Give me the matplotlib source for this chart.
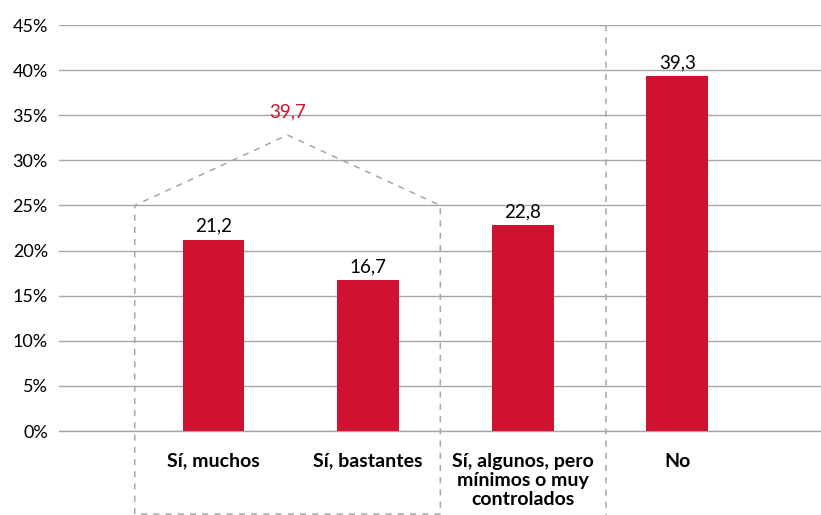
import numpy as np
import matplotlib.pyplot as plt

plt.rcParams['font.family'] = ['Lato', 'DejaVu Sans']

# Datos
categorias = ["Sí, muchos", "Sí, bastantes", "Sí, algunos, pero\nmínimos o muy\ncontrolados", "No"]
valores = [21.2, 16.7, 22.8, 39.3]
etiquetas = ["21,2", "16,7", "22,8", "39,3"]
suma_si = "39,7"

rojo = '#CE1230'
gris = '#A6A6A6'

fig = plt.figure(figsize=(8.21, 5.15), dpi=100)
ax = fig.add_axes([59 / 821, 84 / 515, 762 / 821, 406 / 515])

x = np.arange(1, len(valores) + 1)
ax.bar(x, valores, width=0.4, color=rojo, zorder=3)

for xi, v, lab in zip(x, valores, etiquetas):
    ax.text(xi, v + 0.6, lab, ha='center', va='bottom', fontsize=13.5, color='black')

ax.set_xlim(0, 4.93)
ax.set_ylim(0, 45)
ax.set_yticks(np.arange(0, 46, 5))
ax.set_yticklabels([f"{t}%" for t in range(0, 46, 5)], fontsize=13)
ax.set_xticks([])
ax.tick_params(axis='y', length=0, pad=8)
ax.yaxis.grid(True, color=gris, lw=1, zorder=0)
ax.axhline(0, color=gris, lw=1, zorder=2, clip_on=False)
for s in ax.spines.values():
    s.set_visible(False)

# Etiquetas de categoría
for xi, cat in zip(x, categorias):
    ax.text(xi, -2.4, cat, ha='center', va='top', fontsize=14, fontweight='bold',
            linespacing=1.17)

# Caja discontinua alrededor de las dos primeras categorías
bx = [0.49, 0.49, 1.478, 2.467, 2.467, 0.49]
by = [-9.2, 25, 32.8, 25, -9.2, -9.2]
ax.plot(bx, by, ls=(0, (4, 4)), color=gris, lw=1.1, clip_on=False, zorder=4)
ax.text(1.478, 35.4, suma_si, ha='center', va='center', fontsize=13.5, color=rojo)

# Línea vertical separando "No"
ax.plot([3.54, 3.54], [45, -9.3], ls=(0, (4, 4)), color=gris, lw=1.1, clip_on=False, zorder=4)

fig.savefig('out.png', dpi=100)
